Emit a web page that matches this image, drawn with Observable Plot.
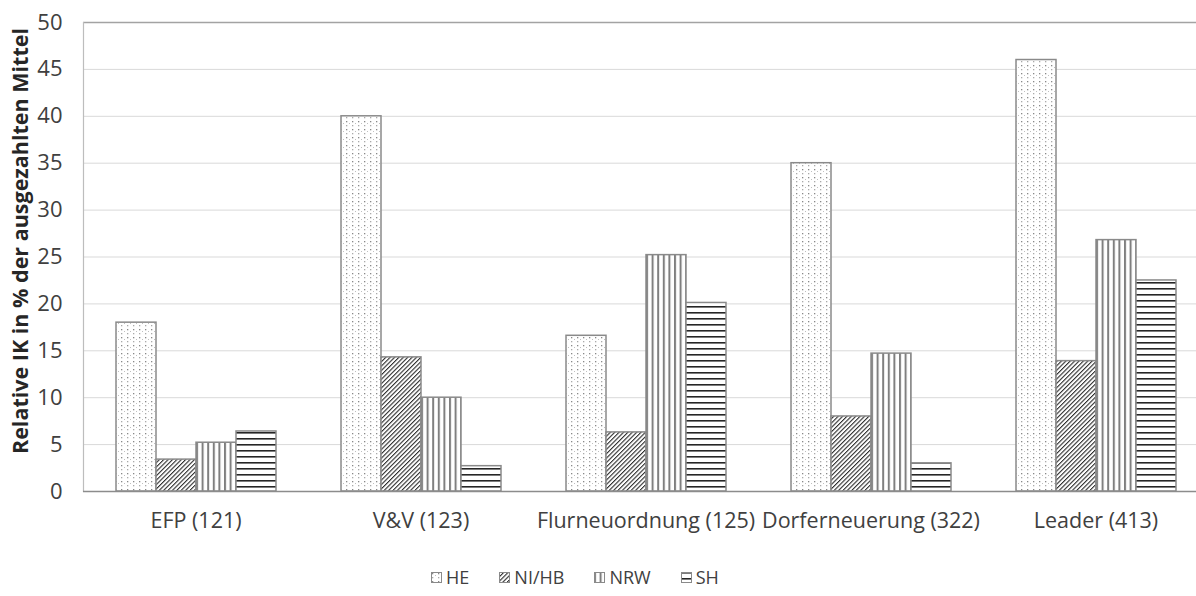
<!DOCTYPE html>
<html>
<head>
<meta charset="utf-8">
<script src="https://cdn.jsdelivr.net/npm/d3@7"></script>
<script src="https://cdn.jsdelivr.net/npm/@observablehq/plot@0.6"></script>
<style>
  body { margin: 0; background: #fff; font-family: "Open Sans", sans-serif; }
  #chart { width: 1196px; overflow: hidden; }
  #legend {
    width: 1150px; display: flex; justify-content: center; align-items: center;
    gap: 30px; margin-top: 20px; font-size: 18px; color: #404040;
  }
  #legend .item { display: flex; align-items: center; gap: 4px; }
  #legend svg { display: block; }
</style>
</head>
<body>
<div id="chart"></div>
<div id="legend"></div>
<script>
// Funding measures (with code) and federal states
const programmes = ["EFP (121)", "V&V (123)", "Flurneuordnung (125)", "Dorferneuerung (322)", "Leader (413)"];
const states = ["HE", "NI/HB", "NRW", "SH"];

// Relative implementation costs in % of paid-out funds, one array per state
const valuesHE   = [18.0, 40.0, 16.6, 35.0, 46.0];
const valuesNIHB = [3.4, 14.3, 6.3, 8.0, 13.9];
const valuesNRW  = [5.2, 10.0, 25.2, 14.7, 26.8];
const valuesSH   = [6.4, 2.7, 20.1, 3.0, 22.5];

const yTicks = [0, 5, 10, 15, 20, 25, 30, 35, 40, 45, 50];
const yTitle = "Relative IK in % der ausgezahlten Mittel";

const seriesValues = [valuesHE, valuesNIHB, valuesNRW, valuesSH];
const patternIds = ["fill-he", "fill-nihb", "fill-nrw", "fill-sh"];

const data = programmes.flatMap((programme, i) =>
  states.map((state, j) => ({programme, state, value: seriesValues[j][i]}))
);

const barStroke = "#8a8a8a";

const svg = Plot.plot({
  width: 1196,
  height: 545,
  marginTop: 22,
  marginBottom: 54,
  marginLeft: 83,
  marginRight: -12,
  style: {fontFamily: "Open Sans, sans-serif", background: "#fff", overflow: "hidden"},
  // contiguous facets so the gridlines run unbroken; the gaps come from x's outer padding
  fx: {domain: programmes, padding: 0, label: null},
  x: {domain: states, paddingInner: 0, paddingOuter: 0.744, axis: null},
  y: {domain: [0, 50], axis: null},
  marks: [
    // horizontal gridlines and plot-area border
    Plot.ruleY(yTicks.filter(v => v > 0 && v < 50), {stroke: "#d9d9d9", strokeWidth: 1}),
    Plot.ruleY([50], {stroke: "#a3a3a3", strokeWidth: 1.3}),
    Plot.frame({anchor: "left", stroke: "#bdbdbd", strokeWidth: 1.2, facetAnchor: "left"}),
    // one patterned bar series per state
    ...states.map((s, j) => Plot.barY(data.filter(d => d.state === s), {
      fx: "programme", x: "state", y: "value",
      fill: `url(#${patternIds[j]})`, stroke: barStroke, strokeWidth: 1.5
    })),
    // baseline
    Plot.ruleY([0], {stroke: "#8c8c8c", strokeWidth: 1.5}),
    // y tick labels
    Plot.axisY({
      ticks: yTicks, tickSize: 0, tickPadding: 21, label: null,
      fontSize: 22, color: "#404040"
    }),
    // y axis title
    Plot.text([yTitle], {
      frameAnchor: "left", textAnchor: "middle", rotate: -90, dx: -62, dy: -16, facetAnchor: "left",
      fontWeight: "bold", fontSize: 21.5, fill: "#262626"
    }),
    // category labels
    Plot.axisFx({anchor: "bottom", tickSize: 0, tickPadding: 21, label: null, fontSize: 21.5, color: "#404040"})
  ]
});

// Fill patterns for the four series
const defs = d3.select(svg).insert("defs", ":first-child");

const pHE = defs.append("pattern").attr("id", "fill-he")
  .attr("patternUnits", "userSpaceOnUse").attr("width", 6).attr("height", 8);
pHE.append("rect").attr("width", 6).attr("height", 8).attr("fill", "#fff");
pHE.append("rect").attr("x", 1).attr("y", 1).attr("width", 1.3).attr("height", 1.3).attr("fill", "#888");
pHE.append("rect").attr("x", 1).attr("y", 5).attr("width", 1.3).attr("height", 1.3).attr("fill", "#aaa");
pHE.append("rect").attr("x", 4).attr("y", 3).attr("width", 1).attr("height", 1).attr("fill", "#c0c0c0");

const pNI = defs.append("pattern").attr("id", "fill-nihb")
  .attr("patternUnits", "userSpaceOnUse").attr("width", 3.1).attr("height", 4)
  .attr("patternTransform", "rotate(45)");
pNI.append("rect").attr("width", 3.1).attr("height", 4).attr("fill", "#fff");
pNI.append("rect").attr("x", 0).attr("y", 0).attr("width", 1.1).attr("height", 4).attr("fill", "#2e2e2e");

const pNRW = defs.append("pattern").attr("id", "fill-nrw")
  .attr("patternUnits", "userSpaceOnUse").attr("width", 5.6).attr("height", 6);
pNRW.append("rect").attr("width", 5.6).attr("height", 6).attr("fill", "#fff");
pNRW.append("rect").attr("x", 0).attr("y", 0).attr("width", 2).attr("height", 6).attr("fill", "#7f7f7f");

const pSH = defs.append("pattern").attr("id", "fill-sh")
  .attr("patternUnits", "userSpaceOnUse").attr("width", 6).attr("height", 6);
pSH.append("rect").attr("width", 6).attr("height", 6).attr("fill", "#fff");
pSH.append("rect").attr("x", 0).attr("y", 0).attr("width", 6).attr("height", 1.6).attr("fill", "#262626");

document.getElementById("chart").append(svg);

// Legend below the chart
const legend = d3.select("#legend");
states.forEach((s, j) => {
  const item = legend.append("div").attr("class", "item");
  const sw = item.append("svg").attr("width", 11).attr("height", 11);
  sw.append("rect").attr("x", 0.5).attr("y", 0.5).attr("width", 10).attr("height", 10)
    .attr("fill", `url(#${patternIds[j]})`).attr("stroke", barStroke).attr("stroke-width", 1);
  item.append("span").text(s);
});
</script>
</body>
</html>
